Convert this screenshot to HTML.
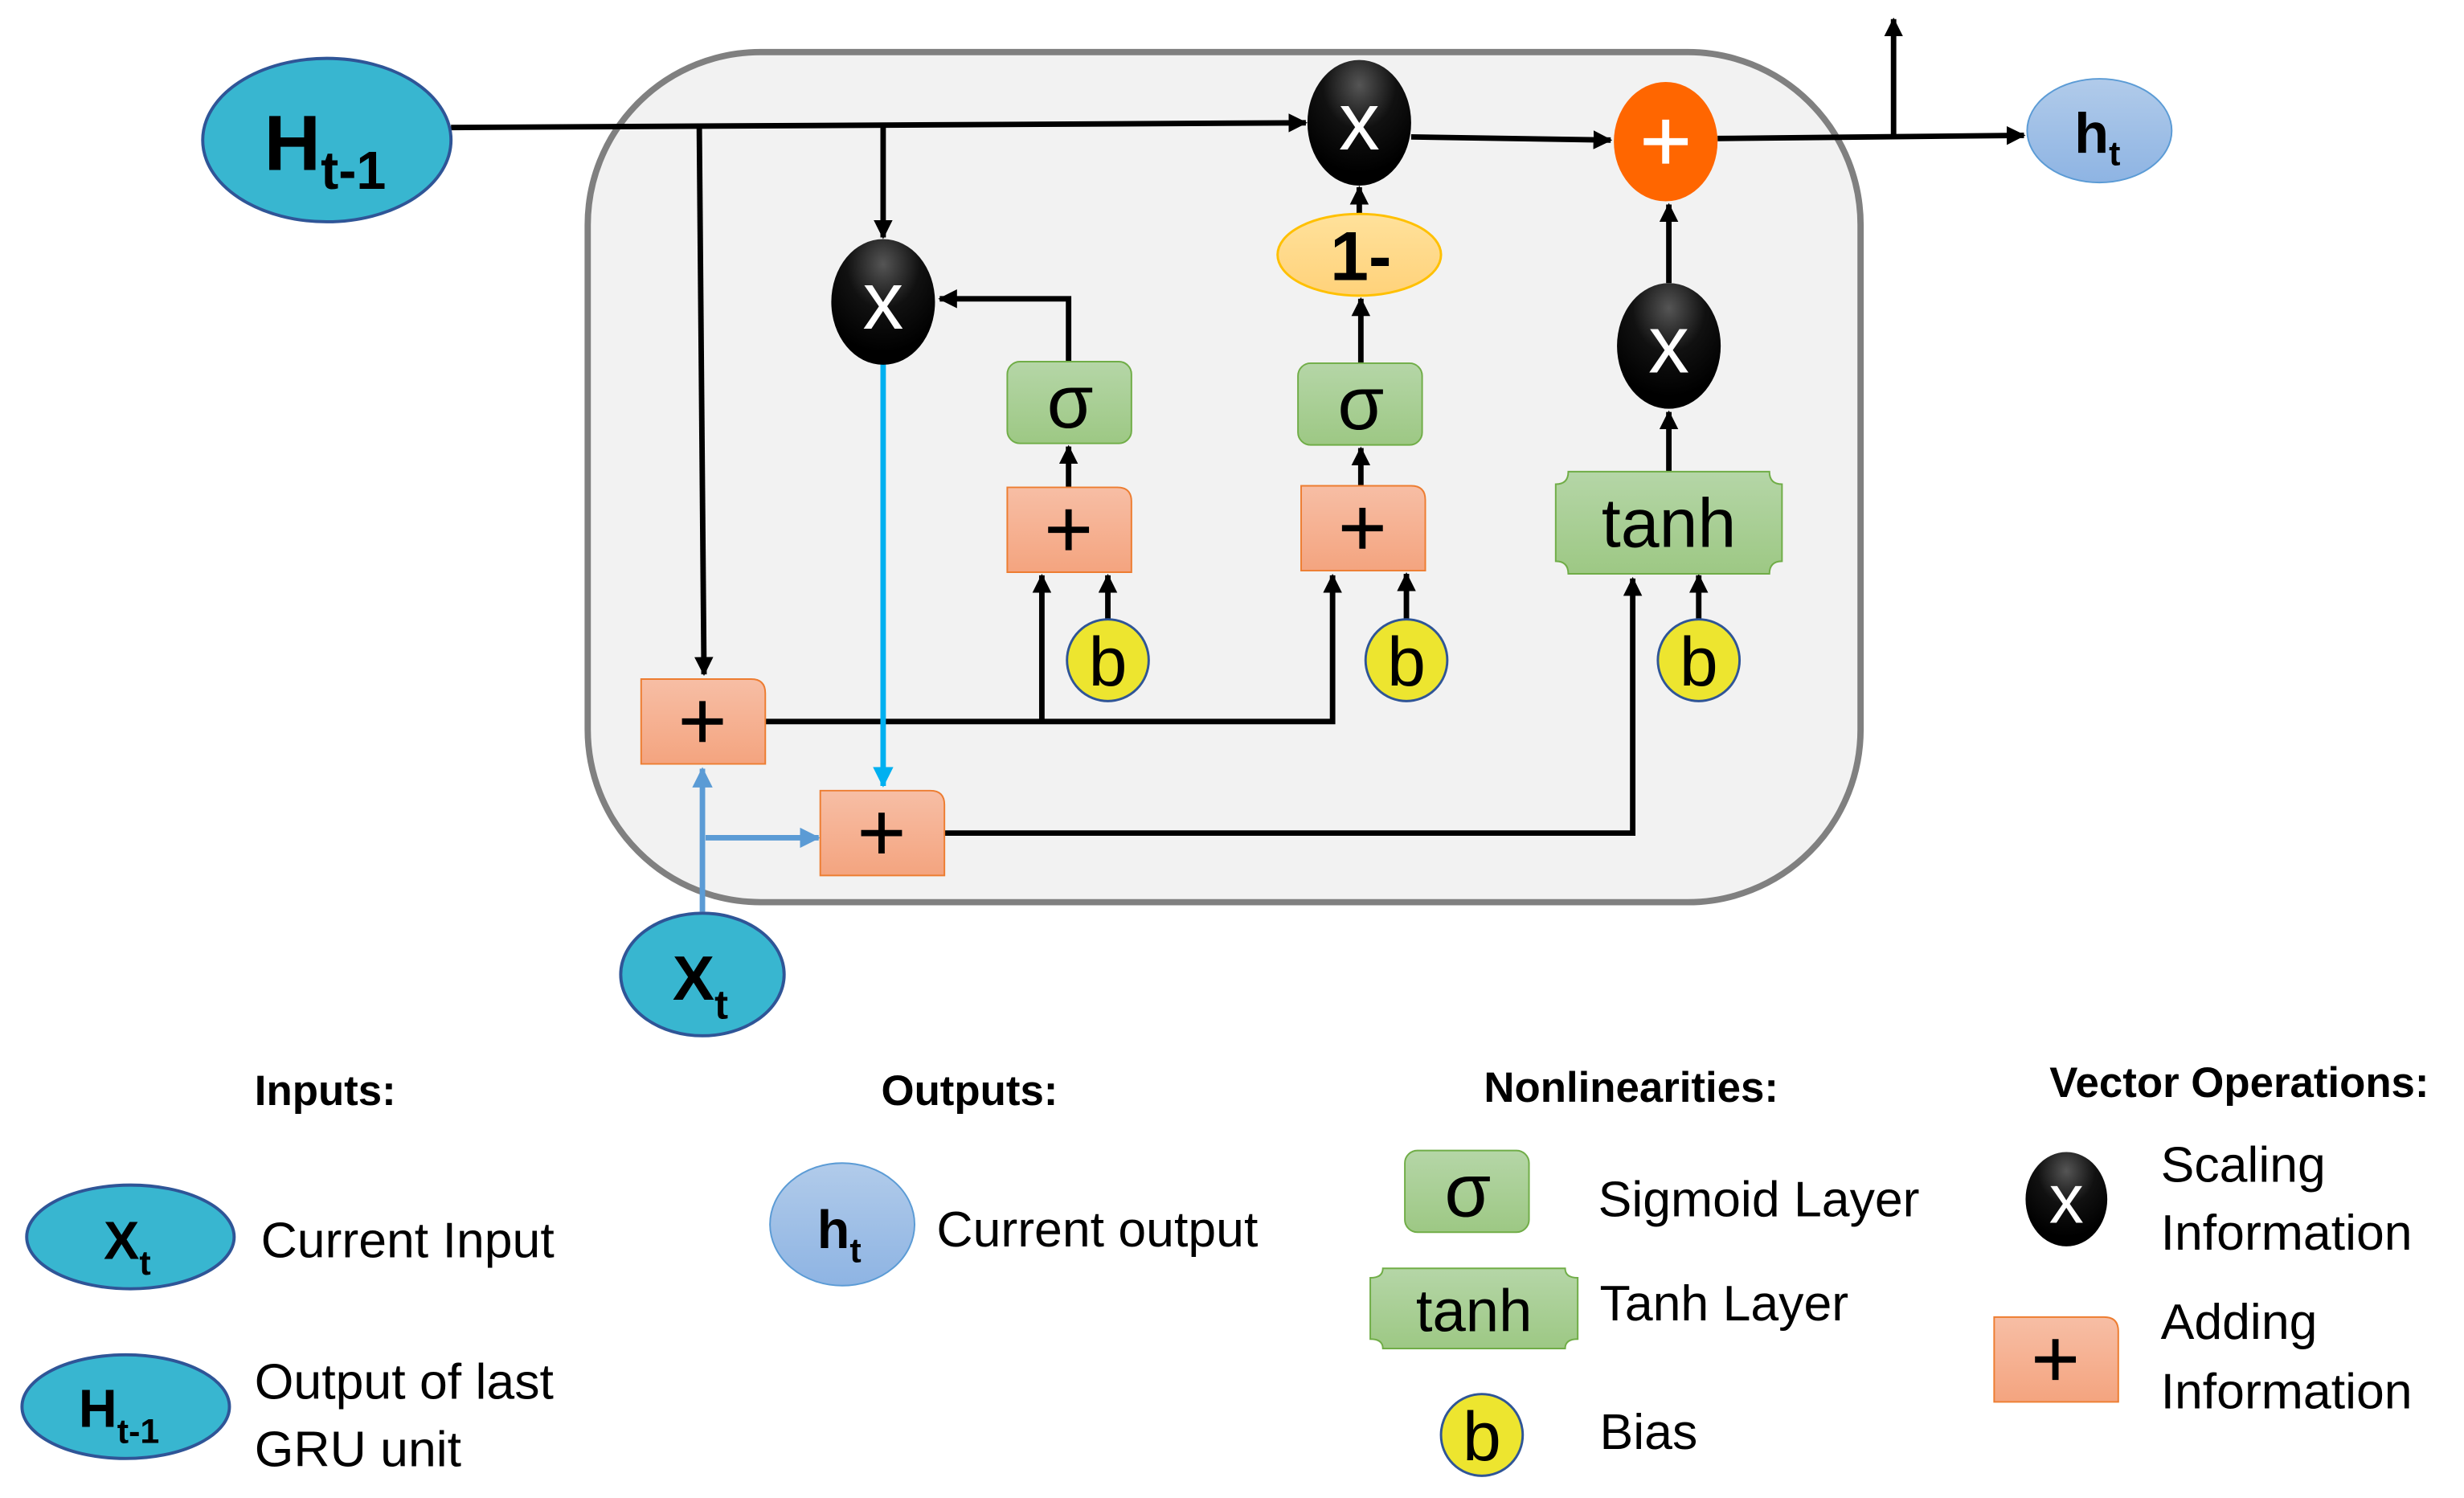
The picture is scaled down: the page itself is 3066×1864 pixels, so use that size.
<!DOCTYPE html>
<html><head><meta charset="utf-8"><style>
html,body{margin:0;padding:0;background:#fff}
svg{display:block}
text{font-family:"Liberation Sans",sans-serif}
</style></head><body>
<svg width="3066" height="1864" viewBox="0 0 1568 953" xmlns="http://www.w3.org/2000/svg">
<defs>
<marker id="a" markerWidth="12" markerHeight="12" refX="11" refY="6" orient="auto" markerUnits="userSpaceOnUse" viewBox="0 0 12 12"><path d="M0,0 L12,6 L0,12 z" fill="#000"/></marker>
<marker id="ab" markerWidth="13" markerHeight="13" refX="12" refY="6.5" orient="auto" markerUnits="userSpaceOnUse" viewBox="0 0 13 13"><path d="M0,0 L13,6.5 L0,13 z" fill="#5b9bd5"/></marker>
<marker id="ac" markerWidth="13" markerHeight="13" refX="12" refY="6.5" orient="auto" markerUnits="userSpaceOnUse" viewBox="0 0 13 13"><path d="M0,0 L13,6.5 L0,13 z" fill="#00b0f0"/></marker>
<radialGradient id="blk" cx="50%" cy="20%" r="70%"><stop offset="0" stop-color="#555"/><stop offset="0.5" stop-color="#111"/><stop offset="1" stop-color="#000"/></radialGradient>
<linearGradient id="grn" x1="0" y1="0" x2="0" y2="1"><stop offset="0" stop-color="#b5d6a7"/><stop offset="1" stop-color="#9dc884"/></linearGradient>
<linearGradient id="org" x1="0" y1="0" x2="0" y2="1"><stop offset="0" stop-color="#f7bea5"/><stop offset="1" stop-color="#f4a47f"/></linearGradient>
<linearGradient id="lb" x1="0" y1="0" x2="0" y2="1"><stop offset="0" stop-color="#b1cbea"/><stop offset="1" stop-color="#8eb4e3"/></linearGradient>
<linearGradient id="yl" x1="0" y1="0" x2="0" y2="1"><stop offset="0" stop-color="#ffe19b"/><stop offset="1" stop-color="#ffd27a"/></linearGradient>
<g id="plusbox"><path d="M0,0 H70 Q79,0 79,9 V54 H0 Z" fill="url(#org)" stroke="#ed7d31" stroke-width="1"/><path d="M39,14 V40 M26,27 H52" stroke="#000" stroke-width="4"/></g>
<g id="sig"><rect x="0" y="0" width="79" height="52" rx="8" fill="url(#grn)" stroke="#70ad47" stroke-width="1"/><text x="40" y="42" font-size="48" text-anchor="middle">σ</text></g>
<g id="bb"><circle r="26" fill="#ede52f" stroke="#2f5597" stroke-width="1.5"/><text y="16" font-size="44" text-anchor="middle">b</text></g>
<g id="xx"><ellipse rx="33" ry="40" fill="url(#blk)"/><text y="17" font-size="52" fill="#fff" text-anchor="middle">x</text></g>
</defs>

<rect x="374" y="33" width="810" height="541" rx="110" fill="#f2f2f2" stroke="#808080" stroke-width="4"/>

<g stroke="#000" stroke-width="3.5" fill="none">
<path d="M287,81 L831,78" marker-end="url(#a)"/>
<path d="M445,81 L448,429" marker-end="url(#a)"/>
<path d="M562,81 L562,151" marker-end="url(#a)"/>
<path d="M680,230 V190 H598" marker-end="url(#a)"/>
<path d="M680,310 V284" marker-end="url(#a)"/>
<path d="M705,394 V366" marker-end="url(#a)"/>
<path d="M487,459 H848 V366" marker-end="url(#a)"/>
<path d="M663,459 V366" marker-end="url(#a)"/>
<path d="M866,309 V285" marker-end="url(#a)"/>
<path d="M895,394 V365" marker-end="url(#a)"/>
<path d="M866,231 L866,190" marker-end="url(#a)"/>
<path d="M865,136 L865,119" marker-end="url(#a)"/>
<path d="M898,87 L1025,89" marker-end="url(#a)"/>
<path d="M1093,88 L1288,86" marker-end="url(#a)"/>
<path d="M1205,87 V12" marker-end="url(#a)"/>
<path d="M1062,180 V130" marker-end="url(#a)"/>
<path d="M1062,300 V262" marker-end="url(#a)"/>
<path d="M1081,394 V366" marker-end="url(#a)"/>
<path d="M601,530 H1039 V368" marker-end="url(#a)"/>
</g>
<path d="M562,231 L562,500" stroke="#00b0f0" stroke-width="3.5" fill="none" marker-end="url(#ac)"/>
<path d="M447,580 L447,489" stroke="#5b9bd5" stroke-width="3.5" fill="none" marker-end="url(#ab)"/>
<path d="M449,533 L521,533" stroke="#5b9bd5" stroke-width="3.5" fill="none" marker-end="url(#ab)"/>

<ellipse cx="208" cy="89" rx="79" ry="52" fill="#38b6d0" stroke="#2f5597" stroke-width="2"/>
<text x="168" y="108" font-size="50" font-weight="bold">H<tspan font-size="34" dy="12">t-1</tspan></text>

<use href="#xx" x="865" y="78"/>
<use href="#xx" x="562" y="192"/>
<use href="#xx" x="1062" y="220"/>
<ellipse cx="1060" cy="90" rx="33" ry="38" fill="#ff6600"/>
<path d="M1060,76 V104 M1046,90 H1074" stroke="#fff" stroke-width="4.5"/>
<ellipse cx="1336" cy="83" rx="46" ry="33" fill="url(#lb)" stroke="#5b9bd5" stroke-width="1"/>
<text x="1320" y="97" font-size="36" font-weight="bold">h<tspan font-size="22" dy="8">t</tspan></text>

<ellipse cx="865" cy="162" rx="52" ry="26" fill="url(#yl)" stroke="#ffc000" stroke-width="1.5"/>
<text x="866" y="178" font-size="44" font-weight="bold" text-anchor="middle">1-</text>

<use href="#sig" x="641" y="230"/>
<use href="#sig" x="826" y="231"/>
<use href="#plusbox" x="641" y="310"/>
<use href="#plusbox" x="828" y="309"/>
<use href="#plusbox" x="408" y="432"/>
<use href="#plusbox" x="522" y="503"/>
<use href="#bb" x="705" y="420"/>
<use href="#bb" x="895" y="420"/>
<use href="#bb" x="1081" y="420"/>

<path d="M998,300 H1126 Q1126,308 1134,308 V357 Q1126,357 1126,365 H998 Q998,357 990,357 V308 Q998,308 998,300 Z" fill="url(#grn)" stroke="#70ad47" stroke-width="1"/>
<text x="1062" y="348" font-size="44" text-anchor="middle">tanh</text>

<ellipse cx="447" cy="620" rx="52" ry="39" fill="#38b6d0" stroke="#2f5597" stroke-width="2"/>
<text x="428" y="636" font-size="40" font-weight="bold">X<tspan font-size="26" dy="12">t</tspan></text>

<!-- legend -->
<g font-size="27" font-weight="bold" text-anchor="middle">
<text x="207" y="703">Inputs:</text>
<text x="617" y="703">Outputs:</text>
<text x="1038" y="701">Nonlinearities:</text>
<text x="1425" y="698">Vector Operations:</text>
</g>
<ellipse cx="83" cy="787" rx="66" ry="33" fill="#38b6d0" stroke="#2f5597" stroke-width="2"/>
<text x="66" y="801" font-size="34" font-weight="bold">X<tspan font-size="22" dy="10">t</tspan></text>
<ellipse cx="80" cy="895" rx="66" ry="33" fill="#38b6d0" stroke="#2f5597" stroke-width="2"/>
<text x="50" y="908" font-size="34" font-weight="bold">H<tspan font-size="22" dy="10">t-1</tspan></text>
<ellipse cx="536" cy="779" rx="46" ry="39" fill="url(#lb)" stroke="#5b9bd5" stroke-width="1"/>
<text x="520" y="794" font-size="34" font-weight="bold">h<tspan font-size="22" dy="9">t</tspan></text>
<use href="#sig" x="894" y="732"/>
<path d="M880,807 H996 Q996,813 1004,813 V852 Q996,852 996,858 H880 Q880,852 872,852 V813 Q880,813 880,807 Z" fill="url(#grn)" stroke="#70ad47" stroke-width="1"/>
<text x="938" y="847" font-size="38" text-anchor="middle">tanh</text>
<use href="#bb" x="943" y="913"/>
<g transform="translate(1315,763)"><ellipse rx="26" ry="30" fill="url(#blk)"/><text y="15" font-size="44" fill="#fff" text-anchor="middle">x</text></g>
<use href="#plusbox" x="1269" y="838"/>
<g font-size="32">
<text x="166" y="800">Current Input</text>
<text x="162" y="890">Output of last</text>
<text x="162" y="933">GRU unit</text>
<text x="596" y="793">Current output</text>
<text x="1017" y="774">Sigmoid Layer</text>
<text x="1018" y="840">Tanh Layer</text>
<text x="1018" y="922">Bias</text>
<text x="1375" y="752">Scaling</text>
<text x="1375" y="795">Information</text>
<text x="1375" y="852">Adding</text>
<text x="1375" y="896">Information</text>
</g>
</svg>
</body></html>
